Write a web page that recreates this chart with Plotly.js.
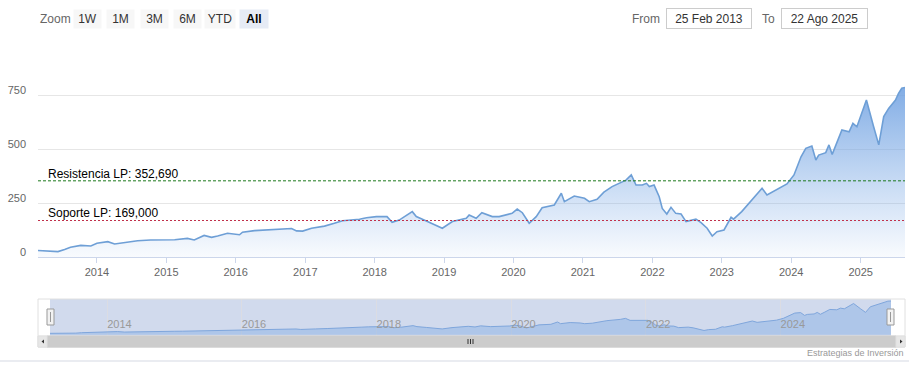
<!DOCTYPE html>
<html><head><meta charset="utf-8">
<script src="https://cdn.plot.ly/plotly-3.0.1.min.js"></script>
<style>html,body{margin:0;padding:0;background:#fff}#chart{width:909px;height:375px}</style>
</head><body><div id="chart"></div>
<script>
const dates = ['2013-02-25','2013-04-28','2013-06-10','2013-07-15','2013-08-15','2013-10-08','2013-11-30','2014-01-01','2014-02-27','2014-04-04','2014-05-25','2014-08-03','2014-10-10','2015-01-03','2015-02-14','2015-04-22','2015-05-28','2015-07-19','2015-08-27','2015-09-28','2015-11-19','2016-01-21','2016-02-06','2016-04-09','2016-06-01','2016-08-09','2016-10-21','2016-11-16','2016-12-18','2017-02-03','2017-04-12','2017-06-03','2017-07-16','2017-10-13','2017-11-19','2018-01-10','2018-03-07','2018-04-03','2018-05-10','2018-07-18','2018-08-08','2018-09-30','2018-11-21','2018-12-23','2019-02-14','2019-04-28','2019-05-13','2019-06-19','2019-07-19','2019-09-12','2019-10-18','2019-12-25','2020-01-21','2020-02-17','2020-03-24','2020-04-30','2020-05-31','2020-08-03','2020-09-09','2020-09-25','2020-11-16','2021-01-09','2021-02-03','2021-03-16','2021-04-21','2021-06-03','2021-08-15','2021-09-12','2021-10-07','2021-11-09','2021-12-01','2021-12-16','2022-01-10','2022-02-06','2022-02-22','2022-03-18','2022-04-09','2022-05-04','2022-06-01','2022-06-27','2022-08-18','2022-09-14','2022-10-16','2022-11-12','2022-12-07','2023-01-13','2023-02-19','2023-03-04','2023-04-16','2023-06-08','2023-08-01','2023-08-27','2023-10-13','2023-11-09','2023-12-10','2024-01-16','2024-02-22','2024-03-18','2024-04-19','2024-05-10','2024-05-25','2024-07-01','2024-07-18','2024-08-04','2024-08-28','2024-09-24','2024-11-01','2024-11-21','2024-12-12','2025-01-31','2025-03-10','2025-04-06','2025-05-02','2025-05-28','2025-07-03','2025-07-19','2025-08-05','2025-08-22'];
const prices = [30,29,25,35,45,54,51,64,71,60,66,75,79,79,80,86,79,100,91,97,110,103,115,122,125,128,132,121,120,133,143,156,168,175,182,187,187,161,171,210,187,167,144,133,164,179,194,179,205,187,187,202,222,205,156,187,228,241,295,256,282,272,256,267,300,326,356,380,333,333,341,326,333,279,225,199,230,202,199,164,175,159,133,97,117,125,184,175,210,264,318,287,310,321,338,380,464,503,514,449,472,483,519,475,526,588,580,619,603,727,603,519,650,688,727,758,781,785];

const yTickVals = [0,250,500,750,1000];
const yTickText = ['0','250','500','750',''];
const xTickVals = ['2014-01-01','2015-01-01','2016-01-01','2017-01-01','2018-01-01','2019-01-01','2020-01-01','2021-01-01','2022-01-01','2023-01-01','2024-01-01','2025-01-01'];
const xTickText = ['2014','2015','2016','2017','2018','2019','2020','2021','2022','2023','2024','2025'];
const navTickVals = ['2014-01-01','2016-01-01','2018-01-01','2020-01-01','2022-01-01','2024-01-01'];
const navTickText = ['2014','2016','2018','2020','2022','2024'];
const resistance = 352.69;
const support = 169.0;
const resistanceLabel = 'Resistencia LP: 352,690';
const supportLabel = 'Soporte LP: 169,000';
const zoomButtons = ['1W','1M','3M','6M','YTD','All'];
const fromLabel = '25 Feb 2013';
const toLabel = '22 Ago 2025';
const creditText = 'Estrategias de Inversión';
const startDate = '2013-02-25', endDate = '2025-08-22';

const W = 909, H = 375;
const px = x => x / W;
const py = y => 1 - y / H;
const FONT = 'Liberation Sans, Arial, sans-serif';

const traces = [
  {
    x: dates, y: prices, type: 'scatter', mode: 'lines',
    line: {color: '#6e9fd6', width: 1.6},
    fill: 'tozeroy',
    fillgradient: {type: 'vertical', start: 0, stop: 800,
      colorscale: [[0, 'rgba(124,170,230,0.05)'], [1, 'rgba(110,160,225,0.88)']]},
    hoverinfo: 'skip', xaxis: 'x', yaxis: 'y'
  },
  {
    x: dates, y: prices, type: 'scatter', mode: 'lines',
    line: {color: '#7fa6dc', width: 1},
    fill: 'tozeroy', fillcolor: 'rgba(110,160,225,0.35)',
    hoverinfo: 'skip', xaxis: 'x2', yaxis: 'y2'
  }
];

const shapes = [
  {type:'rect', xref:'paper', yref:'paper', x0:px(50), x1:px(891), y0:py(336), y1:py(299), fillcolor:'rgba(102,133,194,0.3)', line:{width:0}, layer:'below'},
  {type:'rect', xref:'paper', yref:'paper', x0:px(38), x1:px(905), y0:py(347), y1:py(299), line:{color:'#e0e0e0', width:1}, layer:'above'},
  {type:'rect', xref:'paper', yref:'paper', x0:px(38), x1:px(905), y0:py(347), y1:py(336), fillcolor:'#f2f2f2', line:{color:'#e6e6e6', width:1}},
  {type:'rect', xref:'paper', yref:'paper', x0:px(47), x1:px(896), y0:py(347), y1:py(336), fillcolor:'#cccccc', line:{color:'#cccccc', width:1}},
  {type:'rect', xref:'paper', yref:'paper', x0:px(38), x1:px(47), y0:py(347), y1:py(336), fillcolor:'#e6e6e6', line:{color:'#e0e0e0', width:1}},
  {type:'rect', xref:'paper', yref:'paper', x0:px(896), x1:px(905), y0:py(347), y1:py(336), fillcolor:'#e6e6e6', line:{color:'#e0e0e0', width:1}},
  {type:'path', xref:'paper', yref:'paper', path:`M ${px(41.5)} ${py(341.5)} L ${px(44)} ${py(339.5)} L ${px(44)} ${py(343.5)} Z`, fillcolor:'#333', line:{width:0}},
  {type:'path', xref:'paper', yref:'paper', path:`M ${px(902.5)} ${py(341.5)} L ${px(900)} ${py(339.5)} L ${px(900)} ${py(343.5)} Z`, fillcolor:'#333', line:{width:0}},
  {type:'line', xref:'paper', yref:'paper', x0:px(468), x1:px(468), y0:py(339), y1:py(344), line:{color:'#333', width:1}},
  {type:'line', xref:'paper', yref:'paper', x0:px(470.5), x1:px(470.5), y0:py(339), y1:py(344), line:{color:'#333', width:1}},
  {type:'line', xref:'paper', yref:'paper', x0:px(473), x1:px(473), y0:py(339), y1:py(344), line:{color:'#333', width:1}},
  {type:'rect', xref:'paper', yref:'paper', x0:px(47), x1:px(54), y0:py(325), y1:py(309), fillcolor:'#f2f2f2', line:{color:'#999', width:1}},
  {type:'rect', xref:'paper', yref:'paper', x0:px(887), x1:px(894), y0:py(325), y1:py(309), fillcolor:'#f2f2f2', line:{color:'#999', width:1}},
  {type:'line', xref:'paper', yref:'paper', x0:px(50.5), x1:px(50.5), y0:py(312), y1:py(322), line:{color:'#999', width:1}},
  {type:'line', xref:'paper', yref:'paper', x0:px(890.5), x1:px(890.5), y0:py(312), y1:py(322), line:{color:'#999', width:1}},
  {type:'line', xref:'paper', yref:'paper', x0:0, x1:1, y0:py(361), y1:py(361), line:{color:'#d5d9e3', width:1}},
  {type:'line', xref:'x domain', yref:'y', x0:0, x1:1, y0:resistance, y1:resistance, line:{color:'#1d7a1d', width:1, dash:'3px,2px'}},
  {type:'line', xref:'x domain', yref:'y', x0:0, x1:1, y0:support, y1:support, line:{color:'#c0304a', width:1, dash:'2px,2px'}}
];

const annotations = [
  {xref:'paper', yref:'y', x:px(46), y:resistance, xanchor:'left', yanchor:'bottom', yshift:-2, showarrow:false, text:resistanceLabel, font:{family:FONT, size:12, color:'#000'}},
  {xref:'paper', yref:'y', x:px(46), y:support, xanchor:'left', yanchor:'bottom', yshift:-2, showarrow:false, text:supportLabel, font:{family:FONT, size:12, color:'#000'}},
  {xref:'paper', yref:'paper', x:px(38), y:py(19), xanchor:'left', yanchor:'middle', showarrow:false, text:'Zoom', font:{family:FONT, size:12, color:'#666'}},
  {xref:'paper', yref:'paper', x:px(906), y:py(353), xanchor:'right', yanchor:'middle', showarrow:false, text:creditText, font:{family:FONT, size:9, color:'#999'}},
  {xref:'paper', yref:'paper', x:px(646), y:py(19), xanchor:'center', yanchor:'middle', showarrow:false, text:'From', font:{family:FONT, size:12, color:'#666'}},
  {xref:'paper', yref:'paper', x:px(708.5), y:py(19), xanchor:'center', yanchor:'middle', showarrow:false, text:fromLabel, width:82, height:17, bordercolor:'#cccccc', borderwidth:1, bgcolor:'#fff', font:{family:FONT, size:12, color:'#333'}},
  {xref:'paper', yref:'paper', x:px(768), y:py(19), xanchor:'center', yanchor:'middle', showarrow:false, text:'To', font:{family:FONT, size:12, color:'#666'}},
  {xref:'paper', yref:'paper', x:px(824), y:py(19), xanchor:'center', yanchor:'middle', showarrow:false, text:toLabel, width:83, height:17, bordercolor:'#cccccc', borderwidth:1, bgcolor:'#fff', font:{family:FONT, size:12, color:'#333'}}
];
const btnCenters = [87.5, 121, 154, 187, 220, 254];
const btnWidths = [25, 25, 25, 25, 28, 26];
zoomButtons.forEach((b, i) => {
  const sel = b === 'All';
  annotations.push({xref:'paper', yref:'paper', x:px(btnCenters[i]), y:py(19), xanchor:'center', yanchor:'middle', showarrow:false,
    text: sel ? '<b>' + b + '</b>' : b, width:btnWidths[i], height:16, bgcolor: sel ? '#e6ebf5' : '#f7f7f7', borderpad:1,
    font:{family:FONT, size:12, color: sel ? '#000' : '#333'}});
});

const layout = {
  width: W, height: H,
  margin: {l:0, r:0, t:0, b:0},
  paper_bgcolor: '#fff', plot_bgcolor: 'rgba(0,0,0,0)',
  showlegend: false,
  xaxis: {domain:[px(38), px(905)], range:[startDate, endDate], type:'date', anchor:'y',
    tickvals:xTickVals, ticktext:xTickText, showgrid:false, zeroline:false,
    showline:true, linecolor:'#ccd6eb', linewidth:1,
    ticks:'outside', ticklen:5, tickcolor:'#ccd6eb',
    tickfont:{family:FONT, size:11, color:'#666'}, fixedrange:true},
  yaxis: {domain:[py(257), py(41)], range:[0, 1000], anchor:'x',
    tickvals:yTickVals, ticktext:yTickText, showgrid:true, gridcolor:'#e6e6e6', gridwidth:1,
    zeroline:false, showline:false, ticks:'', ticklabelstandoff:11, ticklabelshift:-5,
    tickfont:{family:FONT, size:11, color:'#666'}, fixedrange:true},
  xaxis2: {domain:[px(50), px(891)], range:[startDate, endDate], type:'date', anchor:'y2',
    tickvals:navTickVals, ticktext:navTickText, showgrid:true, gridcolor:'rgba(220,220,225,0.9)',
    zeroline:false, showline:false, ticks:'', ticklabelposition:'inside right',
    tickfont:{family:FONT, size:11, color:'#999'}, fixedrange:true},
  yaxis2: {domain:[py(336), py(299)], range:[-32, 832], anchor:'x2', visible:false, fixedrange:true},
  shapes: shapes,
  annotations: annotations
};

Plotly.newPlot('chart', traces, layout, {displayModeBar:false, staticPlot:true});
</script></body></html>
